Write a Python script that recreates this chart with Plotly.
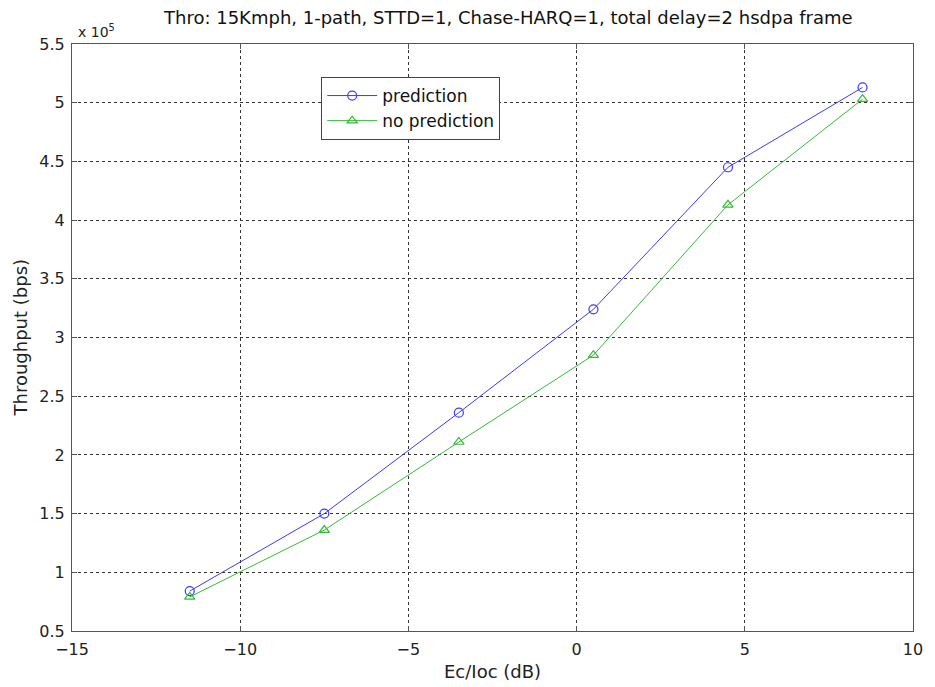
import plotly.graph_objects as go

ec_io = [-11.5, -7.5, -3.5, 0.5, 4.5, 8.5]
pred = [0.84, 1.50, 2.36, 3.24, 4.45, 5.13]
nopred = [0.79, 1.36, 2.11, 2.85, 4.13, 5.03]
xticks = [-15, -10, -5, 0, 5, 10]
yticks = [0.5, 1, 1.5, 2, 2.5, 3, 3.5, 4, 4.5, 5, 5.5]
ytick_text = ["0.5", "1", "1.5", "2", "2.5", "3", "3.5", "4", "4.5", "5", "5.5"]

W, H = 935, 687
ml, mr, mt, mb = 72, 16, 44, 56
FONT = "DejaVu Sans, Liberation Sans, Arial"

fig = go.Figure()
fig.add_trace(go.Scatter(x=ec_io, y=pred, mode="lines+markers", name="prediction",
                         line=dict(color="#3a3aff", width=1),
                         marker=dict(symbol="circle-open", size=9, color="#3a3aff", line=dict(width=1.2))))
fig.add_trace(go.Scatter(x=ec_io, y=nopred, mode="lines+markers", name="no prediction",
                         line=dict(color="#33bb33", width=1),
                         marker=dict(symbol="triangle-up-open", size=9, color="#33bb33", line=dict(width=1.2))))

axis_common = dict(showline=True, linecolor="#555555", linewidth=1, mirror="ticks",
                   ticks="inside", ticklen=5, tickcolor="#555555",
                   showgrid=True, gridcolor="#333333", griddash="dot", gridwidth=1,
                   zeroline=False, tickfont=dict(family=FONT, size=16, color="#222222"))

fig.update_layout(
    width=W, height=H,
    margin=dict(l=ml, r=mr, t=mt, b=mb),
    paper_bgcolor="white", plot_bgcolor="white",
    showlegend=True,
    legend=dict(x=(323 - ml) / (W - ml - mr), y=(H - mb - 77) / (H - mt - mb),
                xanchor="left", yanchor="top",
                bgcolor="white", bordercolor="#444444", borderwidth=1,
                font=dict(family=FONT, size=17, color="#111111"),
                tracegroupgap=0, itemwidth=50),
    xaxis=dict(range=[-15, 10], tickvals=xticks, ticklabelstandoff=4, **axis_common),
    yaxis=dict(range=[0.5, 5.5], tickvals=yticks, ticktext=ytick_text, ticklabelstandoff=3, **axis_common),
)

fig.add_annotation(text="Thro: 15Kmph, 1-path, STTD=1, Chase-HARQ=1, total delay=2 hsdpa frame",
                   xref="paper", yref="paper", x=(511 - ml) / (W - ml - mr), y=1.0, yshift=14,
                   xanchor="center", yanchor="bottom", showarrow=False,
                   font=dict(family=FONT, size=18, color="#111111"))
fig.add_annotation(text="x 10<sup>5</sup>", xref="paper", yref="paper", x=0.0, y=1.0, xshift=4, yshift=2,
                   xanchor="left", yanchor="bottom", showarrow=False,
                   font=dict(family=FONT, size=14, color="#222222"))
fig.add_annotation(text="Ec/Ioc (dB)", xref="paper", yref="paper", x=0.5, y=0.0, yshift=-28,
                   xanchor="center", yanchor="top", showarrow=False,
                   font=dict(family=FONT, size=18, color="#222222"))
fig.add_annotation(text="Throughput (bps)", xref="paper", yref="paper", x=0.0, y=0.5, xshift=-52,
                   xanchor="center", yanchor="middle", textangle=-90, showarrow=False,
                   font=dict(family=FONT, size=18, color="#222222"))

fig.write_html("out.html")
